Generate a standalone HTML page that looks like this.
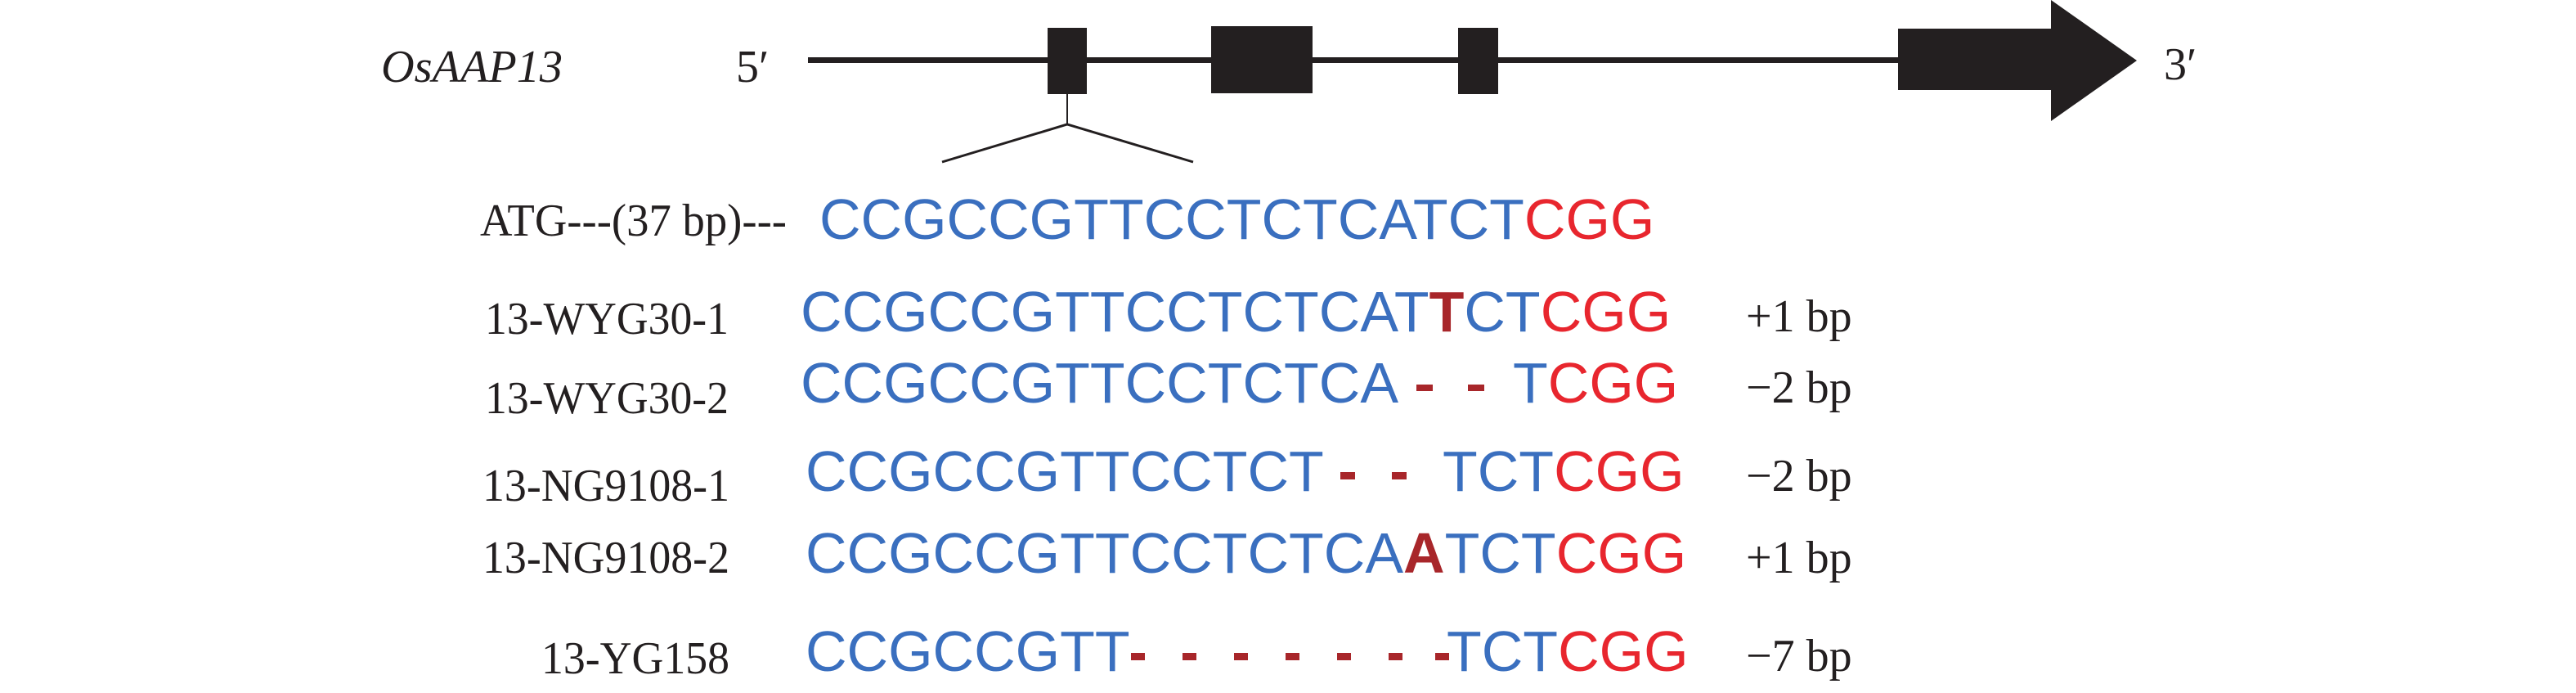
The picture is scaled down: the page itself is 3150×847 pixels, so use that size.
<!DOCTYPE html>
<html><head><meta charset="utf-8"><style>
html,body{margin:0;padding:0;background:#fff;}
svg{display:block;}
.lab{font-family:"Liberation Serif",serif;font-size:56px;fill:#231f20;}
.seq{font-family:"Liberation Sans",sans-serif;font-size:70px;}
.b{fill:#3a6fbf}.r{fill:#e8262e}.d{fill:#a8262a;font-weight:bold}
</style></head><body>
<svg width="3150" height="847" viewBox="0 0 3150 847" xmlns="http://www.w3.org/2000/svg">
<!-- gene model -->
<text class="lab" x="466" y="100" font-style="italic" textLength="222" lengthAdjust="spacingAndGlyphs">OsAAP13</text>
<text class="lab" x="900" y="100">5′</text>
<rect x="988" y="70" width="1340" height="7" fill="#231f20"/>
<rect x="1281" y="34" width="48" height="81" fill="#231f20"/>
<rect x="1481" y="32" width="124" height="82" fill="#231f20"/>
<rect x="1783" y="34" width="49" height="81" fill="#231f20"/>
<rect x="2321" y="35" width="190" height="75" fill="#231f20"/>
<polygon points="2508,0 2613,74 2508,148" fill="#231f20"/>
<text class="lab" x="2646" y="97">3′</text>
<line x1="1305" y1="115" x2="1305" y2="152" stroke="#231f20" stroke-width="2"/>
<polyline points="1152,198 1305,152 1459,198" fill="none" stroke="#231f20" stroke-width="3"/>

<!-- labels -->
<text class="lab" x="587" y="288" textLength="375" lengthAdjust="spacingAndGlyphs">ATG---(37 bp)---</text>
<text class="lab" x="593" y="408" textLength="298" lengthAdjust="spacingAndGlyphs">13-WYG30-1</text>
<text class="lab" x="593" y="505" textLength="298" lengthAdjust="spacingAndGlyphs">13-WYG30-2</text>
<text class="lab" x="590" y="612" textLength="302" lengthAdjust="spacingAndGlyphs">13-NG9108-1</text>
<text class="lab" x="590" y="700" textLength="302" lengthAdjust="spacingAndGlyphs">13-NG9108-2</text>
<text class="lab" x="662" y="823" textLength="230" lengthAdjust="spacingAndGlyphs">13-YG158</text>

<text class="lab" x="2135" y="405">+1 bp</text>
<text class="lab" x="2135" y="492">−2 bp</text>
<text class="lab" x="2135" y="600">−2 bp</text>
<text class="lab" x="2135" y="700">+1 bp</text>
<text class="lab" x="2135" y="820">−7 bp</text>

<!-- sequences -->
<text class="seq" x="1002" y="292"><tspan class="b">CCGCCGTTCCTCTCATCT</tspan><tspan class="r">CGG</tspan></text>
<text class="seq" x="979" y="405"><tspan class="b">CCGCCGTTCCTCTCAT</tspan><tspan class="d">T</tspan><tspan class="b">CT</tspan><tspan class="r">CGG</tspan></text>
<text class="seq" x="979" y="492"><tspan class="b">CCGCCGTTCCTCTCA</tspan></text>
<rect x="1732" y="470" width="20" height="8" fill="#a8262a"/>
<rect x="1795" y="470" width="20" height="8" fill="#a8262a"/>
<text class="seq" x="1850" y="492"><tspan class="b">T</tspan><tspan class="r">CGG</tspan></text>

<text class="seq" x="985" y="600"><tspan class="b">CCGCCGTTCCTCT</tspan></text>
<rect x="1639" y="577" width="18" height="9" fill="#a8262a"/>
<rect x="1702" y="577" width="18" height="9" fill="#a8262a"/>
<text class="seq" x="1764" y="600"><tspan class="b">TCT</tspan><tspan class="r">CGG</tspan></text>

<text class="seq" x="985" y="700"><tspan class="b">CCGCCGTTCCTCTCA</tspan><tspan class="d">A</tspan><tspan class="b">TCT</tspan><tspan class="r">CGG</tspan></text>

<text class="seq" x="985" y="820"><tspan class="b">CCGCCGTT</tspan></text>
<g fill="#a8262a">
<rect x="1383" y="798" width="17" height="9"/>
<rect x="1446" y="798" width="17" height="9"/>
<rect x="1509" y="798" width="17" height="9"/>
<rect x="1572" y="798" width="17" height="9"/>
<rect x="1635" y="798" width="17" height="9"/>
<rect x="1698" y="798" width="17" height="9"/>
<rect x="1755" y="798" width="17" height="9"/>
</g>
<text class="seq" x="1769" y="820"><tspan class="b">TCT</tspan><tspan class="r">CGG</tspan></text>
</svg>
</body></html>
